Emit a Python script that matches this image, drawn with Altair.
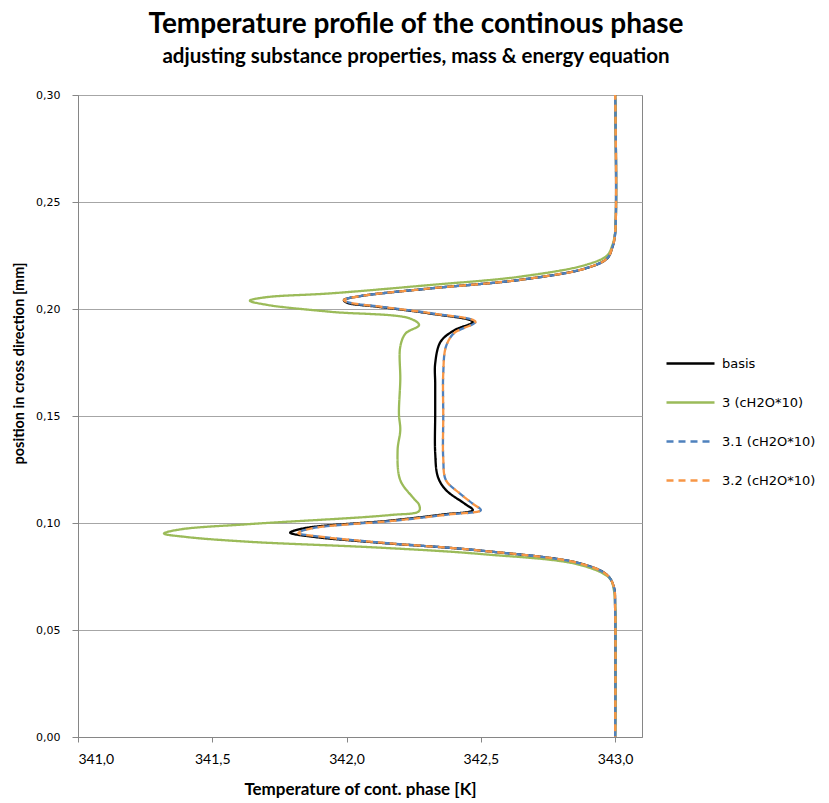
import altair as alt
import pandas as pd

# ---- data ----
series_names = ["basis", "3 (cH2O*10)", "3.1 (cH2O*10)", "3.2 (cH2O*10)"]
series_colors = ["#000000", "#9BBB59", "#4F81BD", "#F79646"]
series_dashes = [[1, 0], [1, 0], [7, 5], [7, 5]]

basis_pos = [0.000, 0.060, 0.0702, 0.0757, 0.0811, 0.0871, 0.0908, 0.0935, 0.0955, 0.0975,
             0.1011, 0.1040, 0.1060, 0.1090, 0.1154, 0.1216, 0.1326, 0.1512, 0.1650, 0.1746,
             0.1847, 0.1900, 0.1940, 0.1979, 0.2010, 0.2030, 0.2042, 0.2060, 0.2096, 0.2136,
             0.2190, 0.2236, 0.2290, 0.2353, 0.3000]
basis_T = [343.00, 343.00, 342.995, 342.97, 342.87, 342.50, 342.12, 341.88, 341.79, 341.84,
           342.16, 342.36, 342.47, 342.44, 342.37, 342.34, 342.33, 342.33, 342.33, 342.33,
           342.35, 342.40, 342.47, 342.31, 342.12, 342.00, 341.99, 342.05, 342.31, 342.645,
           342.89, 342.97, 342.99, 343.00, 343.00]

green_pos = [0.000, 0.062, 0.0688, 0.0741, 0.0804, 0.0855, 0.0885, 0.0912, 0.0935, 0.0951,
             0.0970, 0.0995, 0.1037, 0.1056, 0.1085, 0.1115, 0.1200, 0.1340, 0.1435, 0.1510,
             0.1668, 0.1824, 0.1886, 0.1925, 0.1956, 0.1987, 0.2020, 0.2039, 0.2055, 0.2073,
             0.2112, 0.2151, 0.2206, 0.2250, 0.2300, 0.2360, 0.3000]
green_T = [343.00, 343.00, 342.995, 342.98, 342.87, 342.50, 342.12, 341.64, 341.40, 341.32,
           341.38, 341.64, 342.16, 342.27, 342.27, 342.25, 342.20, 342.19, 342.20, 342.195,
           342.20, 342.20, 342.22, 342.27, 342.235, 341.94, 341.70, 341.64, 341.70, 341.94,
           342.31, 342.645, 342.89, 342.97, 342.99, 343.00, 343.00]

blue_pos = [0.000, 0.060, 0.0702, 0.0757, 0.0811, 0.0871, 0.0908, 0.0935, 0.0953, 0.0975,
            0.1011, 0.1040, 0.1060, 0.1090, 0.1140, 0.1200, 0.1300, 0.1500, 0.1700, 0.1824,
            0.1887, 0.1940, 0.1979, 0.2010, 0.2030, 0.2042, 0.2060, 0.2096, 0.2136, 0.2190,
            0.2236, 0.2290, 0.2353, 0.3000]
blue_T = [343.00, 343.00, 342.995, 342.97, 342.87, 342.50, 342.13, 341.91, 341.82, 341.87,
          342.18, 342.38, 342.50, 342.47, 342.42, 342.37, 342.36, 342.36, 342.36, 342.37,
          342.40, 342.48, 342.32, 342.13, 342.01, 341.99, 342.05, 342.31, 342.645, 342.89,
          342.97, 342.99, 343.00, 343.00]

orange_pos = list(blue_pos)
orange_T = list(blue_T)

x_ticks = [341.0, 341.5, 342.0, 342.5, 343.0]
y_ticks = [0.00, 0.05, 0.10, 0.15, 0.20, 0.25, 0.30]

# ---- table ----
rows = []
for name, P, T in zip(series_names,
                      [basis_pos, green_pos, blue_pos, orange_pos],
                      [basis_T, green_T, blue_T, orange_T]):
    for i, (p, t) in enumerate(zip(P, T)):
        rows.append({"series": name, "pos": p, "T": t, "idx": i})
df = pd.DataFrame(rows)

legend = alt.Legend(
    title=None, orient="none", legendX=587, legendY=243,
    symbolType="stroke", symbolSize=2304, symbolStrokeWidth=2.5,
    labelFont="DejaVu Sans", labelFontSize=13, labelColor="#000000",
    labelOffset=6, rowPadding=6,
)

base = alt.Chart(df).encode(
    x=alt.X("T:Q",
            scale=alt.Scale(domain=[341.0, 343.1], nice=False, zero=False),
            axis=alt.Axis(values=x_ticks,
                          labelExpr="replace(format(datum.value, '.1f'), '.', ',')",
                          title="Temperature  of cont. phase [K]",
                          titleFont="Lato", titleFontSize=17, titleFontWeight="bold",
                          titleColor="#000000", titlePadding=15,
                          labelFont="Lato", labelFontSize=14, labelColor="#000000",
                          labelPadding=10, grid=False,
                          domainColor="#868686", tickColor="#868686", tickSize=5)),
    y=alt.Y("pos:Q",
            scale=alt.Scale(domain=[0, 0.30], nice=False, zero=False),
            axis=alt.Axis(values=y_ticks,
                          labelExpr="replace(format(datum.value, '.2f'), '.', ',')",
                          title="position in cross direction [mm]",
                          titleFont="Lato", titleFontSize=14.5, titleFontWeight="bold",
                          titleColor="#000000", titleX=-59, titleY=268,
                          titleAlign="center", titleBaseline="middle",
                          labelFont="DejaVu Sans", labelFontSize=11, labelColor="#000000",
                          labelPadding=12, grid=True, gridColor="#a6a6a6",
                          domainColor="#868686", tickColor="#868686", tickSize=6)),
    order=alt.Order("idx:Q"),
    color=alt.Color("series:N",
                    scale=alt.Scale(domain=series_names, range=series_colors),
                    sort=series_names, legend=legend),
    strokeDash=alt.StrokeDash("series:N",
                              scale=alt.Scale(domain=series_names, range=series_dashes),
                              sort=series_names, legend=legend),
)

main = base.mark_line(strokeWidth=2.3, interpolate="catmull-rom").transform_filter(
    alt.datum.series != "3.2 (cH2O*10)")
orange = base.mark_line(strokeWidth=2.3, interpolate="catmull-rom",
                        strokeDashOffset=6).transform_filter(
    alt.datum.series == "3.2 (cH2O*10)")

chart = alt.layer(main, orange).properties(
    width=564, height=642,
    title=alt.TitleParams(
        text="Temperature profile of the continous phase",
        subtitle="adjusting substance properties, mass & energy equation",
        font="Lato", fontSize=28, fontWeight="bold", color="#000000",
        subtitleFont="Lato", subtitleFontSize=20.5, subtitleFontWeight="bold",
        subtitleColor="#000000", anchor="middle", dx=56, offset=22, subtitlePadding=8),
    autosize=alt.AutoSizeParams(type="none"),
    padding={"left": 78, "top": 95, "right": 187, "bottom": 66},
).configure_view(stroke="#868686", strokeWidth=1)

chart.save("out.html", embed_options={"renderer": "svg", "actions": False})
